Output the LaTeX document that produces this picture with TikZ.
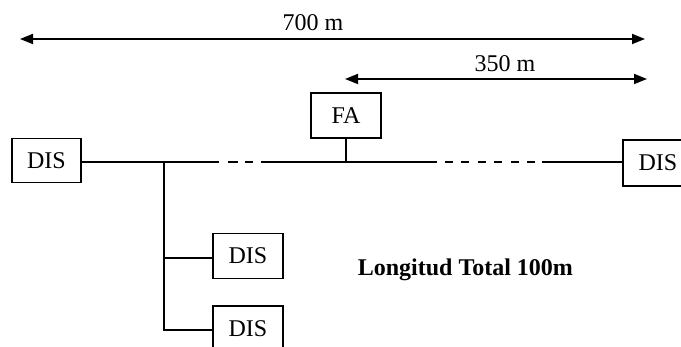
\documentclass[tikz,border=0pt]{standalone}
\usepackage{fontspec}
\setmainfont{Liberation Serif}
\usetikzlibrary{arrows.meta}
\begin{document}
\begin{tikzpicture}[x=1pt,y=-1pt,
  line width=1.6pt,
  box/.style={draw, line width=1.6pt, inner sep=0pt, minimum width=70pt, minimum height=45pt,
    font=\fontsize{24}{28}\selectfont},
  lbl/.style={inner sep=0pt, anchor=base, font=\fontsize{24}{28}\selectfont},
  dim/.style={line width=1.8pt, {Triangle[length=13pt,width=10pt]}-{Triangle[length=13pt,width=10pt]}},
  gapA/.style={dash pattern=on 0pt off 9pt on 10pt off 7pt on 8pt off 8pt},
  gapB/.style={dash pattern=on 8pt off 8.4pt, dash phase=8.4pt}]
\useasboundingbox (0,0) rectangle (681,347);
% dimension lines
\coordinate (t1) at (20,39);
\coordinate (t2) at (645,39);
\draw[dim] (t1) -- (t2);
\node[lbl] (l700) at (313,31) {700 m};
\coordinate (s1) at (345,79);
\coordinate (s2) at (647,79);
\draw[dim] (s1) -- (s2);
\node[lbl] (l350) at (505,71.5) {350 m};
% boxes
\node[box, minimum width=69pt, minimum height=44pt] (D1) at (46.5,160.5) {DIS};
\node[box] (FA) at (346,115.5) {FA};
\node[box, minimum height=46pt] (DR) at (658,163) {DIS};
\node[box] (D2) at (248,256) {DIS};
\node[box] (D3) at (248,328.5) {DIS};
% main bus
\coordinate (j1) at (164,162);
\coordinate (g1s) at (219,162);
\coordinate (g1e) at (261,162);
\coordinate (jf) at (346,162);
\coordinate (g2s) at (437,162);
\coordinate (g2e) at (542,162);
\draw (D1.east |- j1) -- (g1s);
\draw[gapA] (g1s) -- (g1e);
\draw (g1e) -- (g2s);
\draw[gapB] (g2s) -- (g2e);
\draw (g2e) -- (DR.west |- j1);
\draw (FA.south) -- (jf);
% branch
\coordinate (b1) at (164,258);
\coordinate (b2) at (164,330);
\draw (j1) -- (b2) -- (D3.west |- b2);
\draw (b1) -- (D2.west |- b1);
\node[inner sep=0pt, anchor=base west, font=\fontsize{24}{28}\selectfont\bfseries] (lt) at (357,276) {Longitud Total 100m};
\end{tikzpicture}
\end{document}
